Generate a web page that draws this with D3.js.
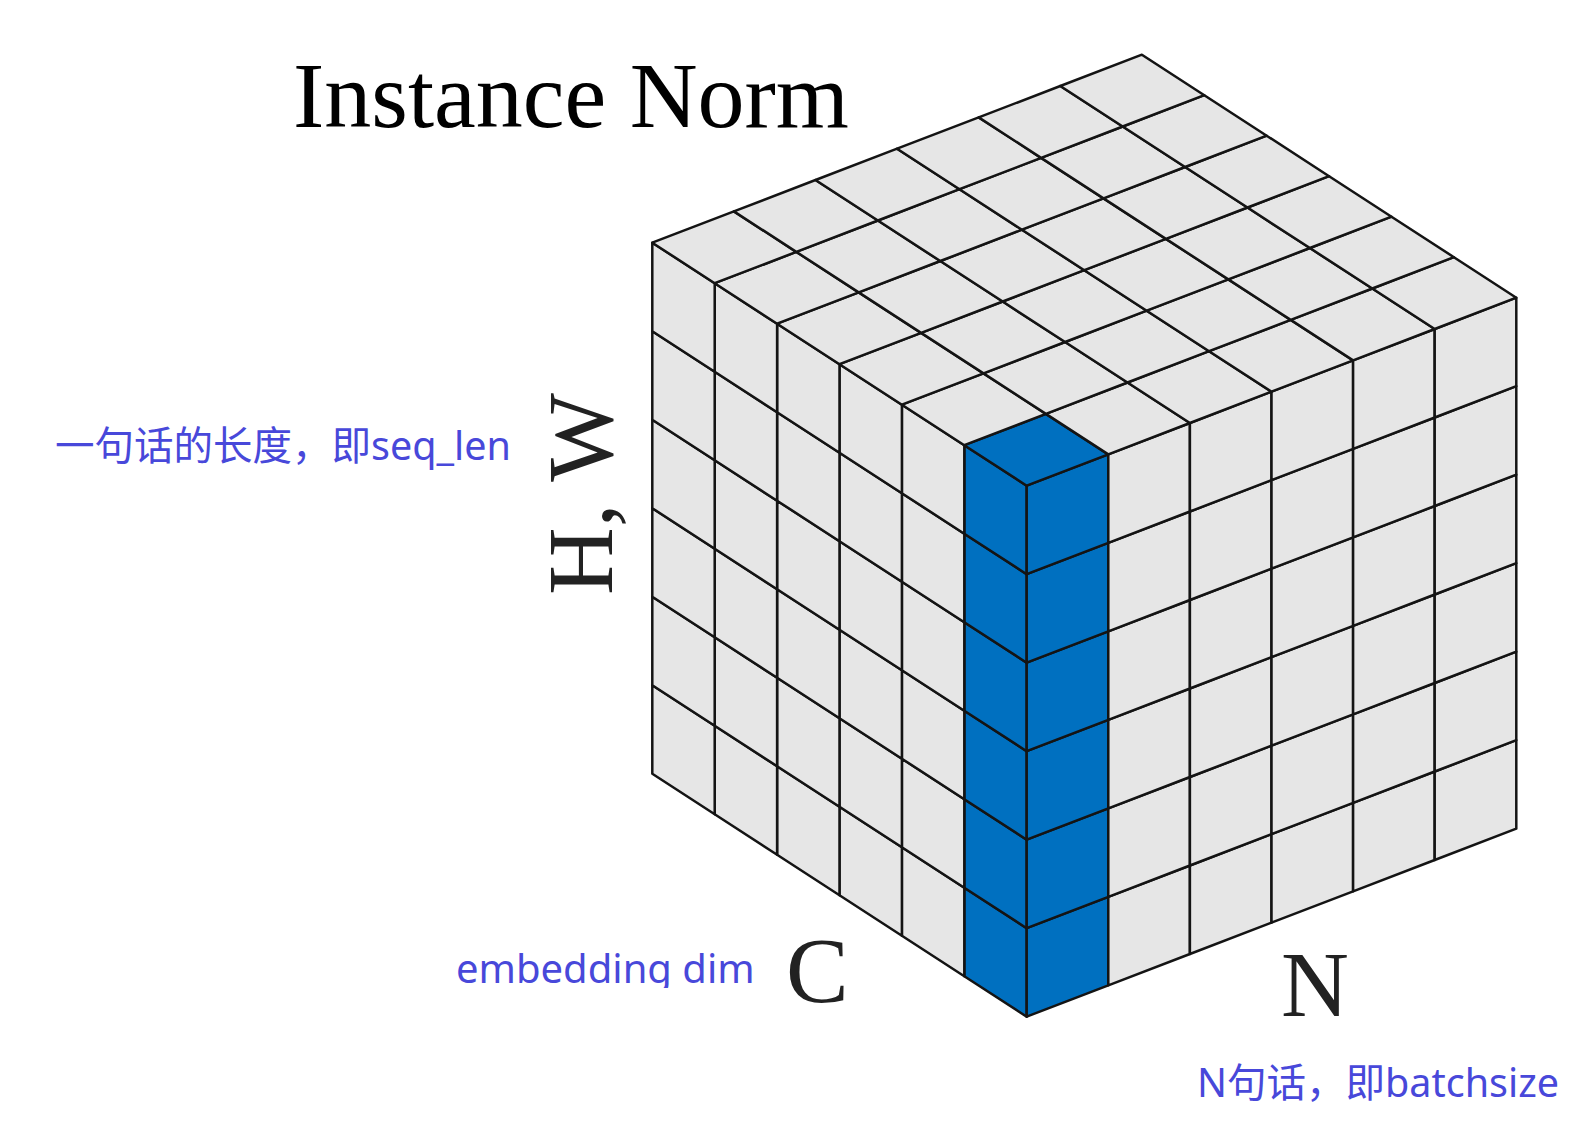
<!DOCTYPE html>
<html>
<head>
<meta charset="utf-8">
<script src="https://cdn.jsdelivr.net/npm/d3@7"></script>
<style>
  html, body { margin: 0; padding: 0; background: #fff; }
  svg { display: block; }
</style>
</head>
<body>
<div id="chart"></div>
<script>
// grid size along each axis of the tensor
const cellsC = [0, 1, 2, 3, 4, 5];   // channels (embedding dim)
const cellsN = [0, 1, 2, 3, 4, 5];   // batch
const cellsHW = [0, 1, 2, 3, 4, 5];  // spatial (seq_len)

// highlighted slice: one sample, one channel, all H,W
const highlightC = [0];
const highlightN = [0];

const titleText = "Instance Norm";
const axisLabels = ["C", "N", "H, W"];
const notes = ["embedding dim", "N句话，即batchsize", "一句话的长度，即seq_len"];

const width = 1592, height = 1142;
const gray = "#e6e6e6", blue = "#0070c0", ink = "#141414", noteColor = "#4848da";

// front-bottom corner of the cube
const ox = 1026.7, oy = 1016.7;

// each axis maps a cell index to a screen offset (oblique projection)
const cX = d3.scaleLinear().domain([0, cellsC.length]).range([0, -374.4]);
const cY = d3.scaleLinear().domain([0, cellsC.length]).range([0, -243]);
const nX = d3.scaleLinear().domain([0, cellsN.length]).range([0, 489.6]);
const nY = d3.scaleLinear().domain([0, cellsN.length]).range([0, -188]);
const hY = d3.scaleLinear().domain([0, cellsHW.length]).range([0, -531]);

const P = (c, n, h) => [ox + cX(c) + nX(n), oy + cY(c) + nY(n) + hY(h)];

const svg = d3.select("#chart")
  .append("svg")
  .attr("width", width)
  .attr("height", height)
  .attr("viewBox", [0, 0, width, height]);

// build the quads of the three visible faces
const quads = [];
// left face (n = 0): C x H
cellsC.forEach(c => cellsHW.forEach(h => {
  quads.push({pts: [P(c, 0, h), P(c + 1, 0, h), P(c + 1, 0, h + 1), P(c, 0, h + 1)],
              hi: highlightC.includes(c)});
}));
// right face (c = 0): N x H
cellsN.forEach(n => cellsHW.forEach(h => {
  quads.push({pts: [P(0, n, h), P(0, n + 1, h), P(0, n + 1, h + 1), P(0, n, h + 1)],
              hi: highlightN.includes(n)});
}));
// top face (h = top): C x N
const hTop = cellsHW.length;
cellsC.forEach(c => cellsN.forEach(n => {
  quads.push({pts: [P(c, n, hTop), P(c + 1, n, hTop), P(c + 1, n + 1, hTop), P(c, n + 1, hTop)],
              hi: highlightC.includes(c) && highlightN.includes(n)});
}));

svg.append("g")
    .attr("stroke", ink)
    .attr("stroke-width", 2.5)
    .attr("stroke-linejoin", "round")
  .selectAll("polygon")
  .data(quads)
  .join("polygon")
    .attr("points", d => d.pts.map(p => p.join(",")).join(" "))
    .attr("fill", d => d.hi ? blue : gray);

// title and axis names
const serif = "'Liberation Serif', 'Times New Roman', serif";
svg.append("text")
    .attr("x", 293).attr("y", 127)
    .attr("font-family", serif).attr("font-size", 94).attr("fill", "#000")
    .text(titleText);

svg.append("text")
    .attr("x", 786).attr("y", 1002)
    .attr("font-family", serif).attr("font-size", 94).attr("fill", "#222")
    .text(axisLabels[0]);

svg.append("text")
    .attr("x", 1281).attr("y", 1016)
    .attr("font-family", serif).attr("font-size", 94).attr("fill", "#222")
    .text(axisLabels[1]);

svg.append("text")
    .attr("transform", "translate(612,494) rotate(-90)")
    .attr("text-anchor", "middle")
    .attr("font-family", serif).attr("font-size", 94).attr("fill", "#222")
    .text(axisLabels[2]);

// blue notes
const sans = "'Noto Sans', 'Noto Sans CJK SC', sans-serif";
svg.append("clipPath").attr("id", "clipEmb")
  .append("rect").attr("x", 400).attr("y", 900).attr("width", 400).attr("height", 88);

svg.append("text")
    .attr("x", 456).attr("y", 983)
    .attr("clip-path", "url(#clipEmb)")
    .attr("font-family", sans).attr("font-size", 40).attr("fill", noteColor)
    .text(notes[0]);

svg.append("text")
    .attr("x", 1197).attr("y", 1097)
    .attr("font-family", sans).attr("font-size", 39.5).attr("fill", noteColor)
    .text(notes[1]);

svg.append("text")
    .attr("x", 55).attr("y", 460)
    .attr("font-family", sans).attr("font-size", 39.5).attr("fill", noteColor)
    .text(notes[2]);
</script>
</body>
</html>
